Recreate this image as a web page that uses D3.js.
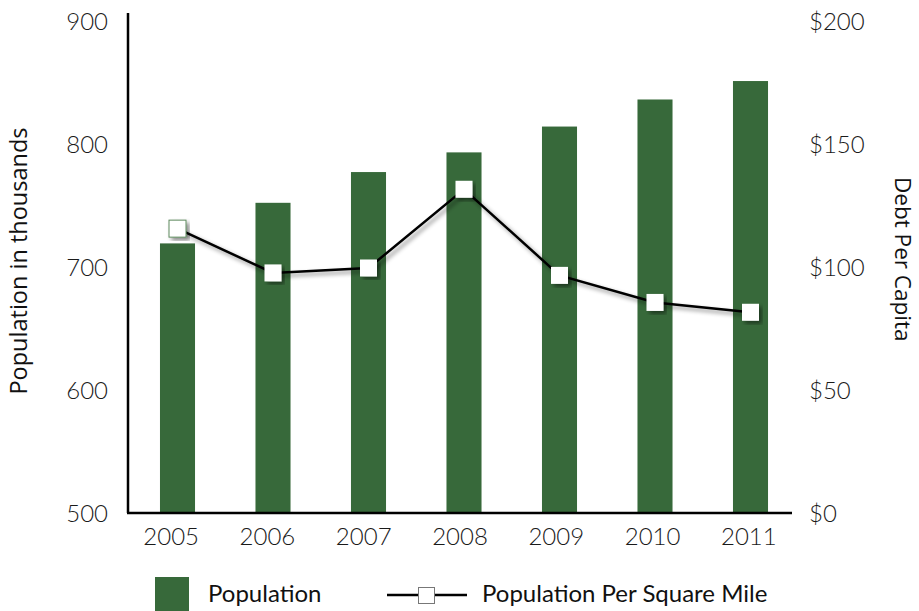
<!DOCTYPE html>
<html>
<head>
<meta charset="utf-8">
<script src="https://cdn.jsdelivr.net/npm/d3@7"></script>
<style>
  html, body { margin: 0; padding: 0; background: #fff; }
  svg { display: block; }
</style>
</head>
<body>
<svg id="chart" width="919" height="611"></svg>
<script>
// Population (thousands) and debt per capita by year
const years = ["2005", "2006", "2007", "2008", "2009", "2010", "2011"];
const population = [720, 753, 778, 794, 815, 837, 852];
const debtPerCapita = [116, 98, 100, 132, 97, 86, 82];
const popTicks = [500, 600, 700, 800, 900];
const debtTicks = [0, 50, 100, 150, 200];
const legendLabels = ["Population", "Population Per Square Mile"];

const svg = d3.select("#chart");
const plotTop = 22, plotBottom = 514, plotLeft = 128, plotRight = 792;
const barColor = "#37693a";
const tickFont = "Lato, 'Open Sans', sans-serif";
const titleFont = "'Open Sans', 'Noto Sans', sans-serif";

const x = d3.scaleBand().domain(years).range([129.75, 798.25]).paddingInner(0.633).paddingOuter(0.3165);
const xLabels = d3.scaleBand().domain(years).range([123, 797]);
const yPop = d3.scaleLinear().domain([500, 900]).range([plotBottom, plotTop]);
const yDebt = d3.scaleLinear().domain([0, 200]).range([plotBottom, plotTop]);

// drop shadow for the line series
const defs = svg.append("defs");
const f = defs.append("filter").attr("id", "shadow")
  .attr("x", "-20%").attr("y", "-20%").attr("width", "140%").attr("height", "140%");
f.append("feDropShadow").attr("dx", 3).attr("dy", 3).attr("stdDeviation", 2)
  .attr("flood-color", "#000").attr("flood-opacity", 0.45);

// bars
svg.append("g").selectAll("rect").data(years).join("rect")
  .attr("x", d => x(d))
  .attr("width", x.bandwidth())
  .attr("y", (d, i) => yPop(population[i]))
  .attr("height", (d, i) => yPop(500) - yPop(population[i]))
  .attr("fill", barColor);

// axis lines
svg.append("line").attr("x1", plotLeft).attr("x2", plotLeft).attr("y1", 13).attr("y2", 513)
  .attr("stroke", "#000").attr("stroke-width", 2.5);
svg.append("line").attr("x1", plotLeft - 1).attr("x2", plotRight).attr("y1", 513).attr("y2", 513)
  .attr("stroke", "#000").attr("stroke-width", 2.5);

function styleTicks(g) {
  g.select(".domain").remove();
  g.selectAll("text").attr("font-size", 24).attr("font-weight", 300)
    .attr("fill", "#1a1a1a").attr("font-family", tickFont);
}

// left axis labels
svg.append("g").attr("transform", `translate(${plotLeft},0)`)
  .call(d3.axisLeft(yPop).tickValues(popTicks).tickSize(0).tickPadding(20))
  .call(styleTicks);

// right axis labels
svg.append("g").attr("transform", `translate(${plotRight},0)`)
  .call(d3.axisRight(yDebt).tickValues(debtTicks).tickSize(0).tickPadding(17).tickFormat(d => "$" + d))
  .call(styleTicks);

// bottom axis labels
svg.append("g").attr("transform", `translate(0,${plotBottom})`)
  .call(d3.axisBottom(xLabels).tickSize(0).tickPadding(14))
  .call(styleTicks);

// axis titles
svg.append("text")
  .attr("transform", "translate(27,261) rotate(-90)")
  .attr("text-anchor", "middle")
  .attr("font-family", titleFont).attr("font-size", 23.5).attr("fill", "#111")
  .text("Population in thousands");
svg.append("text")
  .attr("transform", "translate(895,177) rotate(90)")
  .attr("text-anchor", "start")
  .attr("font-family", titleFont).attr("font-size", 22.5).attr("fill", "#111")
  .text("Debt Per Capita");

// line series
const cx = d => x(d) + x.bandwidth() / 2;
const line = d3.line().x(d => cx(d)).y((d, i) => yDebt(debtPerCapita[i]));
svg.append("path").datum(years)
  .attr("d", line)
  .attr("fill", "none").attr("stroke", "#000").attr("stroke-width", 2.5)
  .attr("filter", "url(#shadow)");

const ms = 17;
svg.append("g").selectAll("rect").data(years).join("rect")
  .attr("x", d => cx(d) - ms / 2)
  .attr("y", (d, i) => yDebt(debtPerCapita[i]) - ms / 2)
  .attr("width", ms).attr("height", ms)
  .attr("fill", "#fff")
  .attr("stroke", (d, i) => i === 0 ? "#5e8a5f" : "none")
  .attr("stroke-width", 1)
  .attr("filter", "url(#shadow)");

// legend
const lg = svg.append("g");
lg.append("rect").attr("x", 155).attr("y", 577).attr("width", 34).attr("height", 34).attr("fill", barColor);
lg.append("text").attr("x", 208).attr("y", 602)
  .attr("font-family", tickFont).attr("font-size", 24).attr("fill", "#111")
  .text(legendLabels[0]);
lg.append("line").attr("x1", 387).attr("x2", 467).attr("y1", 595).attr("y2", 595)
  .attr("stroke", "#000").attr("stroke-width", 2.5);
lg.append("rect").attr("x", 418.5).attr("y", 587.5).attr("width", 16).attr("height", 16)
  .attr("fill", "#fff").attr("stroke", "#777").attr("stroke-width", 1);
lg.append("text").attr("x", 482).attr("y", 602)
  .attr("font-family", tickFont).attr("font-size", 24).attr("fill", "#111")
  .text(legendLabels[1]);
</script>
</body>
</html>
